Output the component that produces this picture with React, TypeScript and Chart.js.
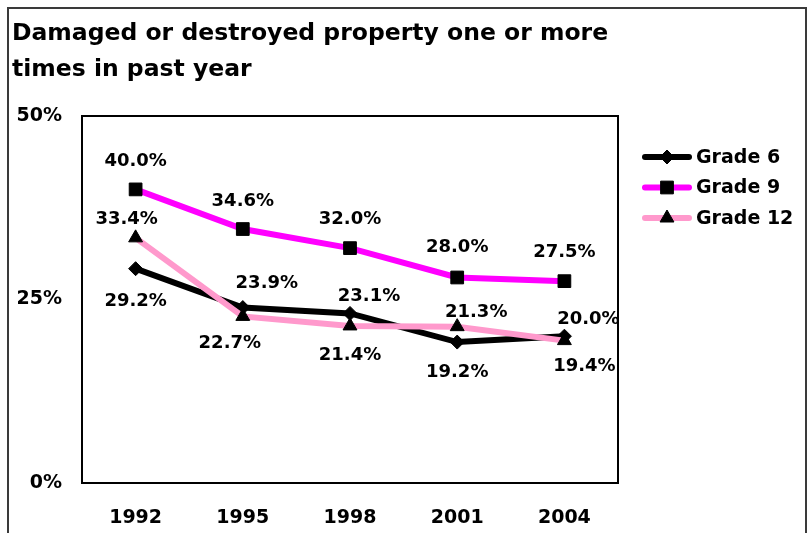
import React, { useEffect, useRef } from 'react';
import { Chart, registerables } from 'chart.js';
import { drawPoint } from 'chart.js/helpers';

Chart.register(...registerables);

// ---- data ----
const TITLE_LINES = ['Damaged or destroyed property one or more', 'times in past year'];
const YEARS = ['1992', '1995', '1998', '2001', '2004'];
const SERIES_NAMES = ['Grade 6', 'Grade 9', 'Grade 12'];
const GRADE6 = [29.2, 23.9, 23.1, 19.2, 20.0];
const GRADE9 = [40.0, 34.6, 32.0, 28.0, 27.5];
const GRADE12 = [33.4, 22.7, 21.4, 21.3, 19.4];
const Y_MIN = 0;
const Y_MAX = 50;
const Y_STEP = 25;

// ---- label placement (dx, dy from the point), styling ----
const LABEL_OFFSETS: number[][][] = [
  [[0, 33], [24, -24], [19, -17], [0, 30], [24, -17]],
  [[0, -28], [0, -28], [0, -29], [0, -30], [0, -29]],
  [[-9, -19], [-13, 27], [0, 29], [19, -14], [20, 26]],
];
const FONT = '"DejaVu Sans", "Liberation Sans", sans-serif';

const chromePlugin = {
  id: 'chrome',
  beforeDraw(chart: any) {
    const ctx = chart.ctx;
    ctx.save();
    ctx.fillStyle = '#ffffff';
    ctx.fillRect(0, 0, chart.width, chart.height);
    ctx.strokeStyle = '#3a3a3a';
    ctx.lineWidth = 2;
    ctx.beginPath();
    ctx.moveTo(8, chart.height + 4);
    ctx.lineTo(8, 8);
    ctx.lineTo(806, 8);
    ctx.lineTo(806, chart.height + 4);
    ctx.stroke();
    ctx.fillStyle = '#000';
    ctx.font = 'bold 23.5px ' + FONT;
    ctx.textAlign = 'left';
    ctx.textBaseline = 'alphabetic';
    TITLE_LINES.forEach((t, i) => ctx.fillText(t, 12, 40 + i * 36));
    ctx.restore();
  },
  beforeDatasetsDraw(chart: any) {
    const { left, top, right, bottom } = chart.chartArea;
    const ctx = chart.ctx;
    ctx.save();
    ctx.strokeStyle = '#000';
    ctx.lineWidth = 2;
    ctx.strokeRect(left, top, right - left, bottom - top);
    ctx.restore();
  },
  afterDatasetsDraw(chart: any) {
    const ctx = chart.ctx;
    ctx.save();
    ctx.fillStyle = '#000';
    ctx.font = 'bold 18px ' + FONT;
    ctx.textAlign = 'center';
    ctx.textBaseline = 'middle';
    chart.data.datasets.forEach((ds: any, di: number) => {
      const meta = chart.getDatasetMeta(di);
      meta.data.forEach((pt: any, i: number) => {
        const off = LABEL_OFFSETS[di][i];
        ctx.fillText(ds.data[i].toFixed(1) + '%', pt.x + off[0], pt.y + off[1]);
      });
    });
    ctx.restore();
  },
  afterDraw(chart: any) {
    const ctx = chart.ctx;
    const x0 = chart.chartArea.right + 24;
    ctx.save();
    chart.data.datasets.forEach((ds: any, i: number) => {
      const y = 157 + i * 30.5;
      ctx.strokeStyle = ds.borderColor;
      ctx.lineWidth = 6;
      ctx.lineCap = 'round';
      ctx.beginPath();
      ctx.moveTo(x0 + 3, y);
      ctx.lineTo(x0 + 47, y);
      ctx.stroke();
      ctx.lineCap = 'butt';
      ctx.fillStyle = '#000';
      ctx.strokeStyle = '#000';
      ctx.lineWidth = 1;
      drawPoint(ctx, { pointStyle: ds.pointStyle, radius: ds.pointRadius, rotation: 0, borderWidth: 1 }, x0 + 25, y);
      ctx.fillStyle = '#000';
      ctx.font = 'bold 19px ' + FONT;
      ctx.textAlign = 'left';
      ctx.textBaseline = 'middle';
      ctx.fillText(SERIES_NAMES[i], x0 + 54, y + 1);
    });
    ctx.restore();
  },
};

export default function App() {
  const ref = useRef<HTMLCanvasElement | null>(null);
  useEffect(() => {
    if (!ref.current) return;
    const mk = (label: string, data: number[], color: string, style: string, r: number, order: number) => ({
      label,
      data,
      borderColor: color,
      backgroundColor: color,
      borderWidth: 6,
      tension: 0,
      pointStyle: style,
      pointRadius: r,
      pointBackgroundColor: '#000',
      pointBorderColor: '#000',
      pointBorderWidth: 1,
      order,
    });
    const chart = new Chart(ref.current, {
      type: 'line',
      data: {
        labels: YEARS,
        datasets: [
          mk(SERIES_NAMES[0], GRADE6, '#000000', 'rectRot', 7, 2),
          mk(SERIES_NAMES[1], GRADE9, '#ff00ff', 'rect', 9, 1),
          mk(SERIES_NAMES[2], GRADE12, '#ff99cc', 'triangle', 8, 0),
        ] as any,
      },
      options: {
        animation: false,
        responsive: false,
        devicePixelRatio: 1,
        layout: { padding: { top: 116, right: 194, bottom: 0, left: 0 } },
        plugins: { legend: { display: false }, title: { display: false }, tooltip: { enabled: false } },
        scales: {
          x: {
            type: 'category',
            offset: true,
            grid: { display: false, drawTicks: false },
            border: { display: false },
            ticks: { color: '#000', font: { family: FONT, size: 19, weight: 'bold' }, padding: 24, maxRotation: 0 },
            afterFit: (s: any) => { s.height = 50; },
          },
          y: {
            min: Y_MIN,
            max: Y_MAX,
            grid: { display: false, drawTicks: false },
            border: { display: false },
            ticks: {
              stepSize: Y_STEP,
              color: '#000',
              font: { family: FONT, size: 19, weight: 'bold' },
              padding: 20,
              callback: (v: any) => v + '%',
            },
            afterFit: (s: any) => { s.width = 82; },
          },
        },
      } as any,
      plugins: [chromePlugin],
    });
    return () => chart.destroy();
  }, []);
  return (
    <div style={{ position: 'absolute', left: 0, top: 0, width: 812, height: 533, overflow: 'hidden' }}>
      <canvas ref={ref} width={812} height={533} style={{ display: 'block', width: 812, height: 533 }} />
    </div>
  );
}
